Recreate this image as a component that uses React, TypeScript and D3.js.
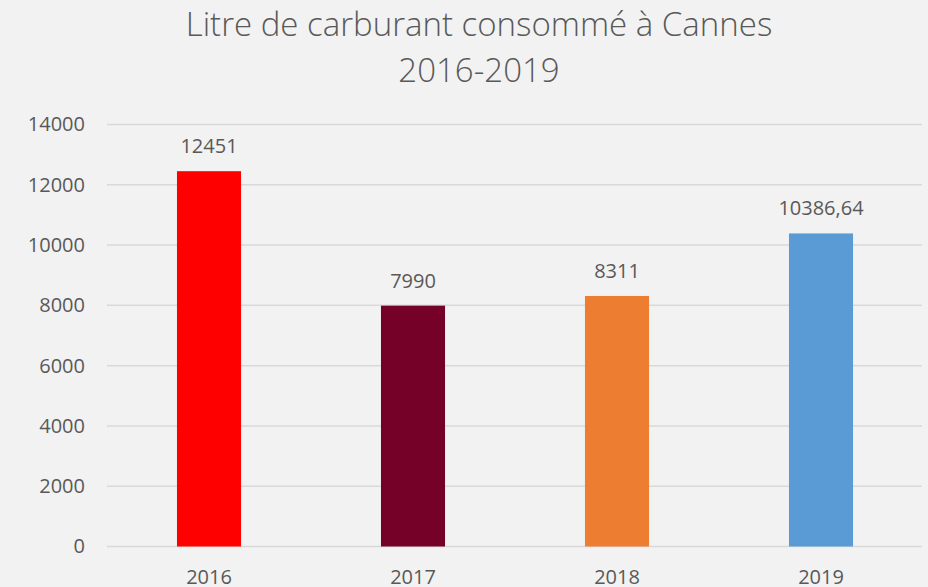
import React, { useEffect, useRef } from 'react';
import * as d3 from 'd3';

const years = ['2016', '2017', '2018', '2019'];
const litres = [12451, 7990, 8311, 10386.64];
const barColors = ['#ff0000', '#750028', '#ed7d31', '#5b9bd5'];
const yTicks = [0, 2000, 4000, 6000, 8000, 10000, 12000, 14000];
const titleLines = ['Litre de carburant consommé à Cannes', '2016-2019'];

const App = () => {
  const svgRef = useRef<SVGSVGElement>(null);

  useEffect(() => {
    const width = 928;
    const height = 587;
    const left = 107;
    const right = 923;
    const top = 124.5;
    const bottom = 546.5;
    const font = '"Open Sans", sans-serif';
    const textColor = '#595959';

    const svg = d3.select(svgRef.current)
      .attr('width', width)
      .attr('height', height);
    svg.selectAll('*').remove();

    svg.append('rect')
      .attr('width', width)
      .attr('height', height)
      .attr('fill', '#f2f2f2');

    const fr = d3.formatLocale({ decimal: ',', thousands: '', grouping: [3], currency: ['', ' €'] });
    const fmt = fr.format('~f');

    const data = years.map((y, i) => ({ year: y, value: litres[i], color: barColors[i] }));

    const x = d3.scaleBand()
      .domain(years)
      .range([left, right])
      .paddingInner(0.686)
      .paddingOuter(0.343);

    const y = d3.scaleLinear()
      .domain([0, 14000])
      .range([bottom, top]);

    // title
    svg.append('text')
      .attr('x', 479)
      .attr('text-anchor', 'middle')
      .style('font-family', font)
      .style('font-weight', 300)
      .style('font-size', '33px')
      .attr('fill', textColor)
      .selectAll('tspan')
      .data(titleLines)
      .enter()
      .append('tspan')
      .attr('x', 479)
      .attr('y', (d, i) => 36 + i * 46)
      .text(d => d);

    // gridlines
    svg.append('g')
      .selectAll('line')
      .data(yTicks)
      .enter()
      .append('line')
      .attr('x1', left)
      .attr('x2', right - 1)
      .attr('y1', d => y(d))
      .attr('y2', d => y(d))
      .attr('stroke', '#d9d9d9')
      .attr('stroke-width', 1.5);

    const yAxis = d3.axisLeft(y).tickValues(yTicks).tickSize(0).tickPadding(22).tickFormat(d => fmt(d as number));
    const gy = svg.append('g')
      .attr('transform', `translate(${left},0)`)
      .call(yAxis);
    gy.select('.domain').remove();
    gy.selectAll('text')
      .style('font-family', font)
      .style('font-size', '20px')
      .attr('fill', textColor);

    const xAxis = d3.axisBottom(x).tickSize(0).tickPadding(23);
    const gx = svg.append('g')
      .attr('transform', `translate(0,${bottom})`)
      .call(xAxis);
    gx.select('.domain').remove();
    gx.selectAll('text')
      .style('font-family', font)
      .style('font-size', '20px')
      .attr('fill', textColor);

    // bars
    svg.append('g')
      .selectAll('rect')
      .data(data)
      .enter()
      .append('rect')
      .attr('x', d => x(d.year)!)
      .attr('y', d => y(d.value))
      .attr('width', x.bandwidth())
      .attr('height', d => y(0) - y(d.value))
      .attr('fill', d => d.color);

    // value labels
    svg.append('g')
      .selectAll('text')
      .data(data)
      .enter()
      .append('text')
      .attr('x', d => x(d.year)! + x.bandwidth() / 2)
      .attr('y', d => y(d.value) - 18)
      .attr('text-anchor', 'middle')
      .style('font-family', font)
      .style('font-size', '20px')
      .attr('fill', textColor)
      .text(d => fmt(d.value));
  }, []);

  return (
    <svg ref={svgRef} style={{ position: 'absolute', left: 0, top: 0, display: 'block' }}></svg>
  );
};

export default App;
